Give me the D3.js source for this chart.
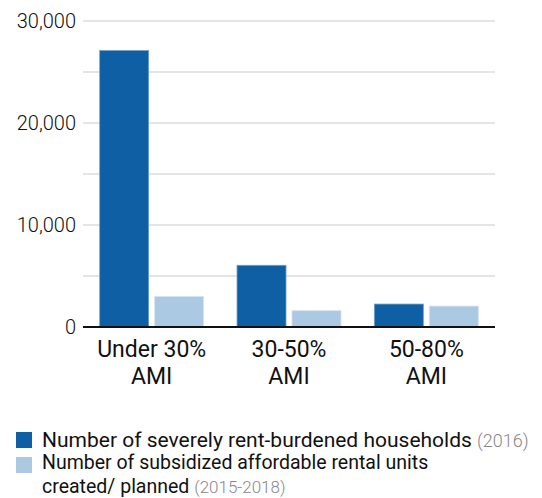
<!DOCTYPE html>
<html><head><meta charset="utf-8">
<script src="https://cdn.jsdelivr.net/npm/d3@7"></script>
<style>body{margin:0;background:#fff;} svg{display:block;font-family:Roboto,sans-serif;}</style>
</head><body>
<svg id="chart" width="542" height="498"></svg>
<script>
const categories = [["Under 30%", "AMI"], ["30-50%", "AMI"], ["50-80%", "AMI"]];
const seriesNames = ["Number of severely rent-burdened households", "Number of subsidized affordable rental units created/ planned"];
const seriesYears = ["(2016)", "(2015-2018)"];
const burdened = [27100, 6050, 2250];
const subsidized = [3000, 1600, 2050];
const yTicks = [0, 5000, 10000, 15000, 20000, 25000, 30000];
const yLabelTicks = [0, 10000, 20000, 30000];
const colors = ["#0e5fa3", "#abc9e2"];

(function () {
const svg = d3.select("#chart");
const mLeft = 83, mRight = 495, mTop = 21, mBottom = 327;
const x0 = d3.scaleBand().domain(d3.range(categories.length)).range([mLeft, mRight]).paddingInner(0.243).paddingOuter(0.1215);
const x1 = d3.scaleBand().domain([0, 1]).range([0, x0.bandwidth()]).paddingInner(0.109);
const y = d3.scaleLinear().domain([0, 30000]).range([mBottom, mTop]);

// grid
svg.append("g").selectAll("line").data(yTicks.filter(d => d > 0)).join("line")
  .attr("x1", mLeft).attr("x2", mRight).attr("y1", d => y(d)).attr("y2", d => y(d))
  .attr("stroke", "#cccccc").attr("stroke-width", 1.2);

// y labels
svg.append("g").selectAll("text").data(yLabelTicks).join("text")
  .attr("x", 76).attr("y", d => y(d)).attr("dy", "0.36em")
  .attr("text-anchor", "end").attr("font-size", 20).attr("font-weight", 300).attr("fill", "#111")
  .text(d => d3.format(",")(d));

// bars
const data = categories.map((c, i) => [burdened[i], subsidized[i]]);
const g = svg.append("g").selectAll("g").data(data).join("g")
  .attr("transform", (d, i) => `translate(${x0(i)},0)`);
g.selectAll("rect").data(d => d).join("rect")
  .attr("x", (d, j) => x1(j)).attr("width", x1.bandwidth())
  .attr("y", d => y(d)).attr("height", d => y(0) - y(d))
  .attr("fill", (d, j) => colors[j])
  .attr("stroke", (d, j) => j === 0 ? "#6f9fcb" : "#d3e3f1").attr("stroke-width", 0.8);

// baseline
svg.append("line").attr("x1", mLeft).attr("x2", mRight).attr("y1", y(0)).attr("y2", y(0))
  .attr("stroke", "#111").attr("stroke-width", 2.2);

// category labels
const cl = svg.append("g").selectAll("text").data(categories).join("text")
  .attr("text-anchor", "middle").attr("font-size", 23).attr("fill", "#111")
  .attr("transform", (d, i) => `translate(${x0(i) + x0.bandwidth() / 2},0)`);
cl.selectAll("tspan").data(d => d).join("tspan")
  .attr("x", 0).attr("y", (d, k) => 357 + k * 27).text(d => d);

// legend
const leg = svg.append("g");
leg.append("rect").attr("x", 16).attr("y", 432).attr("width", 16).attr("height", 16).attr("fill", colors[0]);
leg.append("rect").attr("x", 16).attr("y", 457).attr("width", 16).attr("height", 16).attr("fill", colors[1]);
const t1 = leg.append("text").attr("x", 42).attr("y", 447).attr("font-size", 21).attr("fill", "#111");
t1.append("tspan").text(seriesNames[0] + " ");
t1.append("tspan").attr("font-size", 18).attr("font-weight", 300).attr("fill", "#888").text(seriesYears[0]);
const words = seriesNames[1].split(" ");
leg.append("text").attr("x", 42).attr("y", 469).attr("font-size", 19.5).attr("fill", "#111")
  .text(words.slice(0, 6).join(" "));
const t3 = leg.append("text").attr("x", 42).attr("y", 493).attr("font-size", 19.5).attr("fill", "#111");
t3.append("tspan").text(words.slice(6).join(" ") + " ");
t3.append("tspan").attr("font-size", 17).attr("font-weight", 300).attr("fill", "#888").text(seriesYears[1]);
})();
</script>
</body></html>
